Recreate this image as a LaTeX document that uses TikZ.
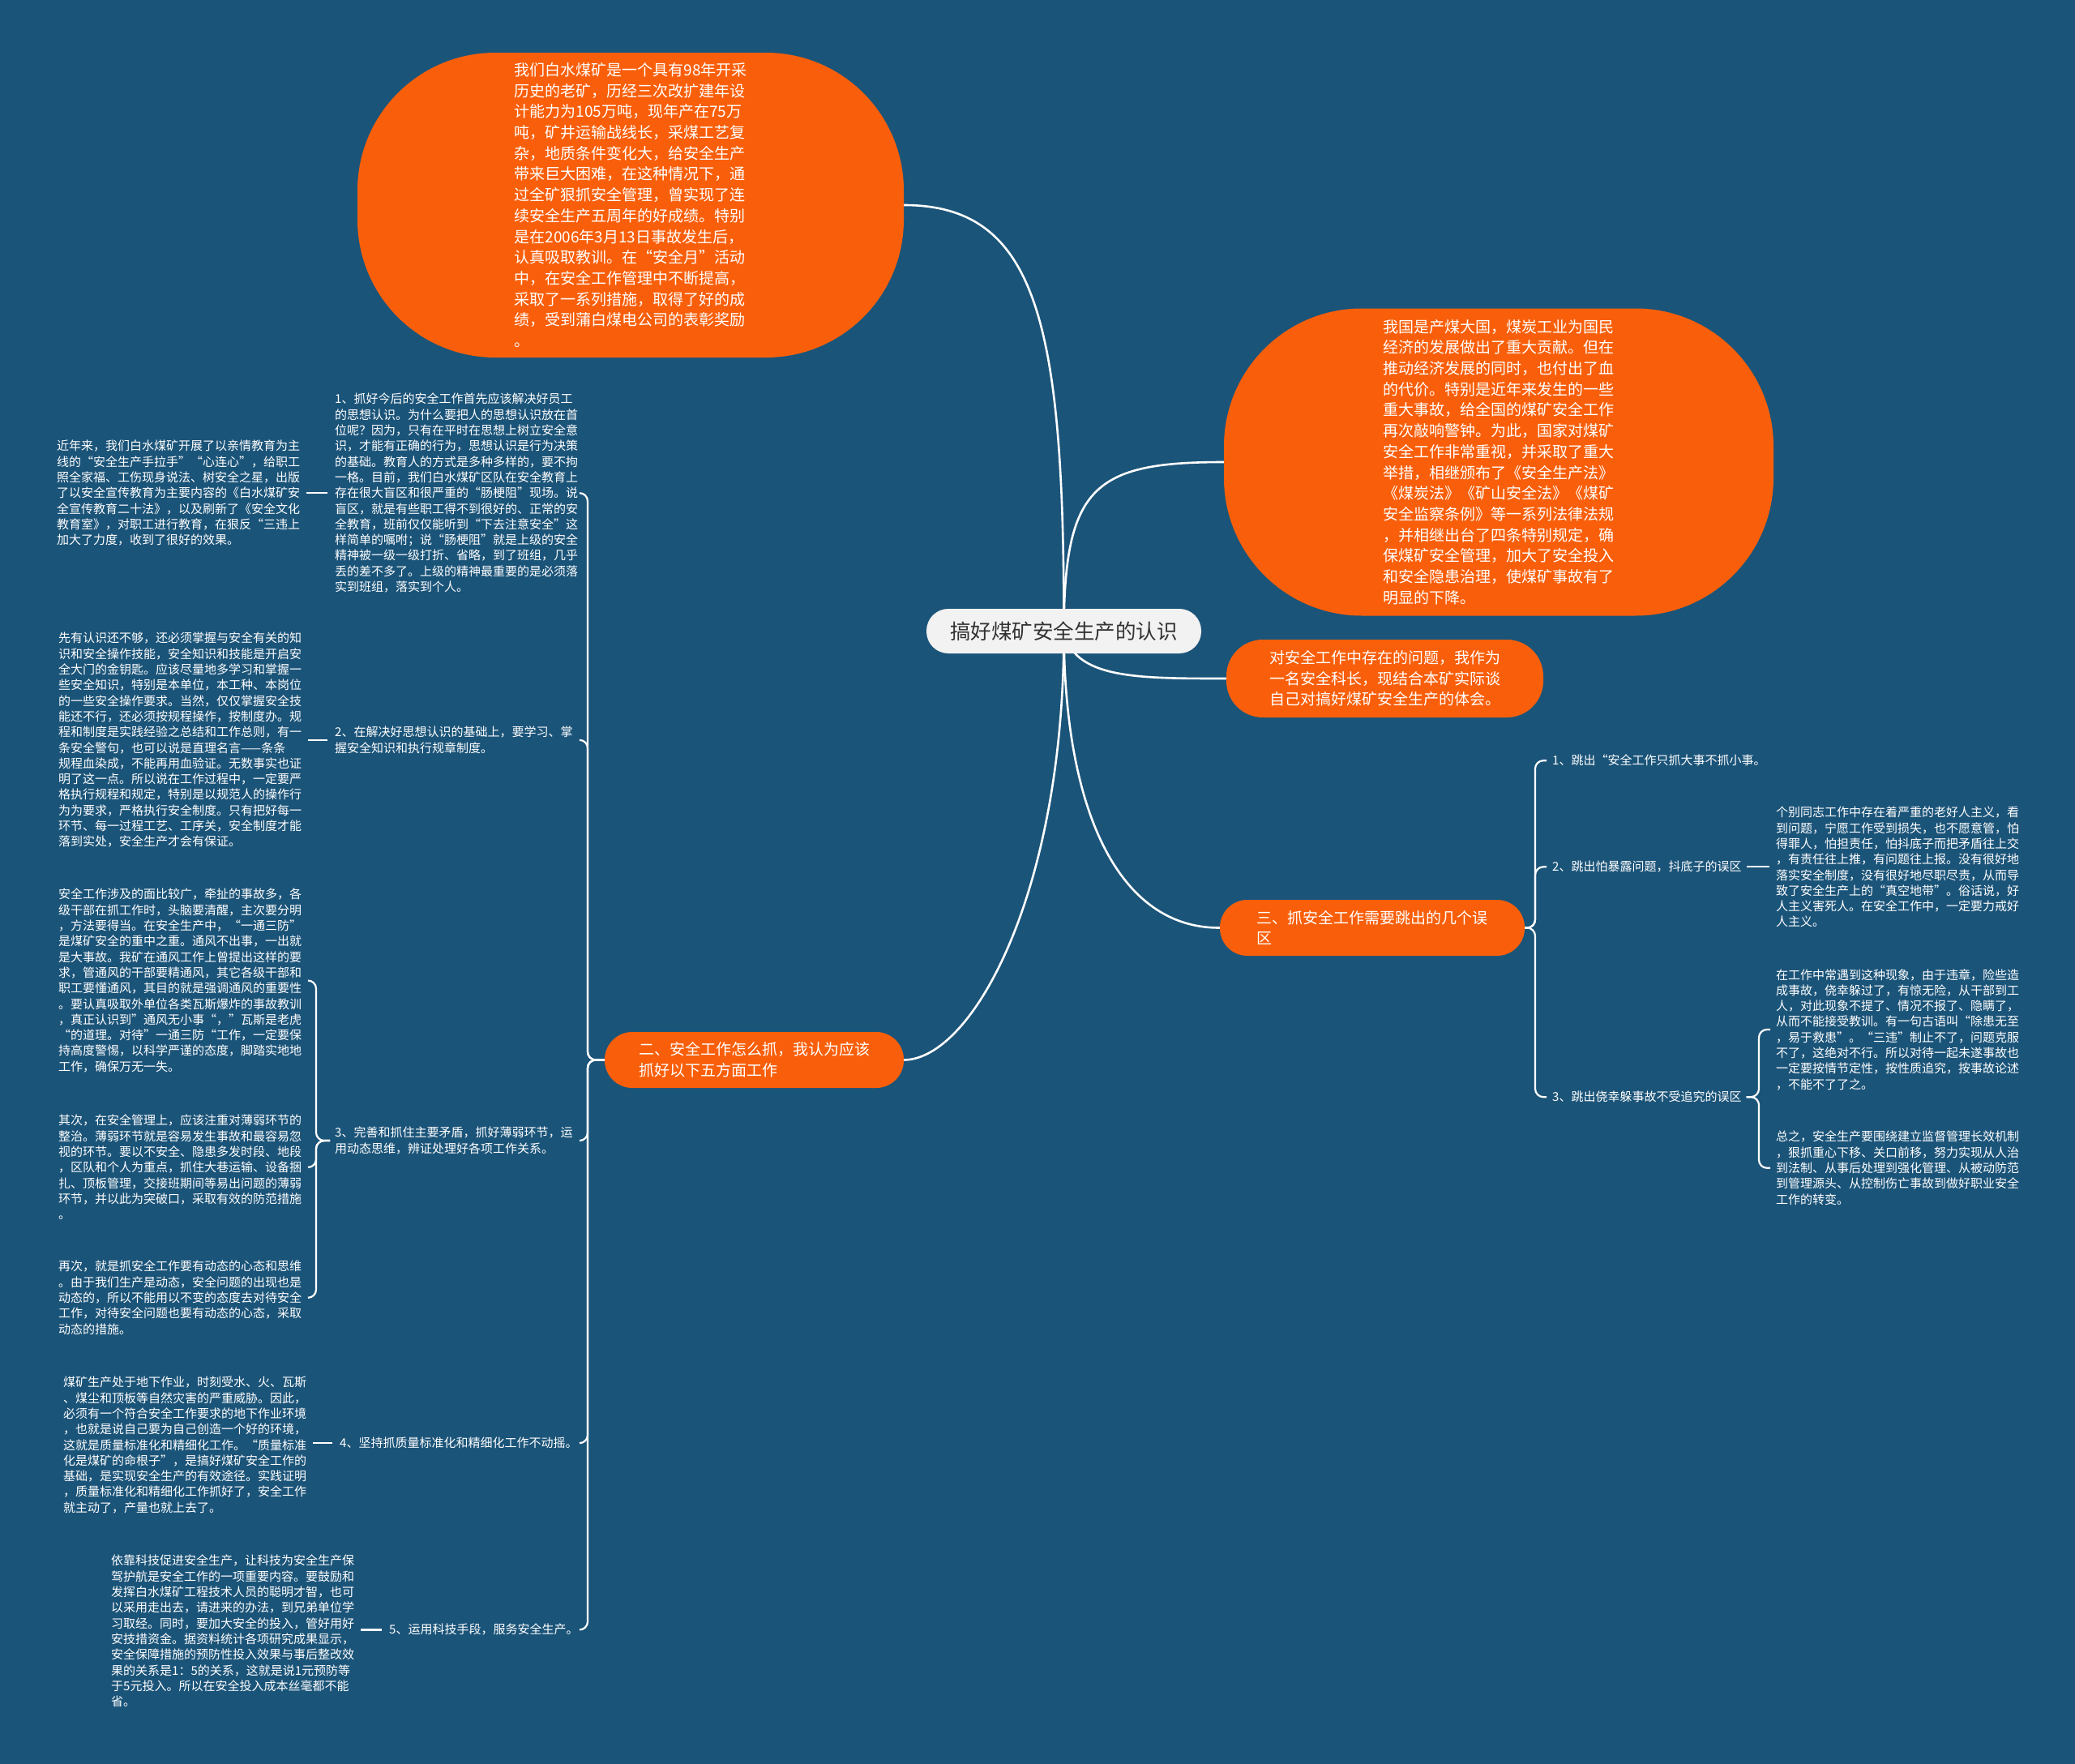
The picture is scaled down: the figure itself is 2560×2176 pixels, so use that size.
\documentclass[tikz,border=0pt]{standalone}
\usepackage{fontspec}
\setmainfont{Noto Sans CJK SC}
\usetikzlibrary{calc}
\definecolor{bgc}{RGB}{27,84,121}
\definecolor{org}{RGB}{249,95,10}
\definecolor{cfill}{RGB}{242,242,242}
\definecolor{ctext}{RGB}{51,51,51}
\pgfdeclarelayer{bg}
\pgfsetlayers{bg,main}
\tikzset{
  txt/.style={anchor=north west, inner sep=0pt, text=white, align=left, font=\fontsize{15}{19.3}\selectfont},
  blob/.style={fill=org, text=white, align=left, inner sep=0pt, font=\fontsize{19}{25.7}\selectfont},
  conn/.style={draw=white, line width=2.6pt},
  sub/.style={draw=white, line width=2.2pt, rounded corners=10pt},
}
\begin{document}
\begin{tikzpicture}[x=1pt,y=-1pt]
\useasboundingbox (0,0) rectangle (2560,2176);
% central topic
\node[fill=cfill, text=ctext, rounded corners=27pt, minimum width=339pt, minimum height=55pt, inner sep=0pt, font=\fontsize{25.5}{30}\selectfont] (C) at (1312.5,778.5) {搞好煤矿安全生产的认识};
% orange main branches
\node[blob, minimum width=674pt, minimum height=376pt, rounded corners=170pt] (A) at (778,253) {我们白水煤矿是一个具有98年开采\\
历史的老矿，历经三次改扩建年设\\
计能力为105万吨，现年产在75万\\
吨，矿井运输战线长，采煤工艺复\\
杂，地质条件变化大，给安全生产\\
带来巨大困难，在这种情况下，通\\
过全矿狠抓安全管理，曾实现了连\\
续安全生产五周年的好成绩。特别\\
是在2006年3月13日事故发生后，\\
认真吸取教训。在“安全月”活动\\
中，在安全工作管理中不断提高，\\
采取了一系列措施，取得了好的成\\
绩，受到蒲白煤电公司的表彰奖励\\
。};
\node[blob, minimum width=678pt, minimum height=379pt, rounded corners=170pt] (B) at (1849,570) {我国是产煤大国，煤炭工业为国民\\
经济的发展做出了重大贡献。但在\\
推动经济发展的同时，也付出了血\\
的代价。特别是近年来发生的一些\\
重大事故，给全国的煤矿安全工作\\
再次敲响警钟。为此，国家对煤矿\\
安全工作非常重视，并采取了重大\\
举措，相继颁布了《安全生产法》\\
《煤炭法》《矿山安全法》《煤矿\\
安全监察条例》等一系列法律法规\\
，并相继出台了四条特别规定，确\\
保煤矿安全管理，加大了安全投入\\
和安全隐患治理，使煤矿事故有了\\
明显的下降。};
\node[blob, minimum width=391pt, minimum height=96pt, rounded corners=45pt] (D) at (1708.5,837) {对安全工作中存在的问题，我作为\\
一名安全科长，现结合本矿实际谈\\
自己对搞好煤矿安全生产的体会。};
\node[blob, minimum width=376pt, minimum height=69pt, rounded corners=34pt] (E) at (1693,1144.5) {三、抓安全工作需要跳出的几个误\\
区};
\node[blob, minimum width=369pt, minimum height=69pt, rounded corners=34pt] (F) at (930.5,1307.5) {二、安全工作怎么抓，我认为应该\\
抓好以下五方面工作};
% left side items
\node[txt] (I1) at (413,485) {1、抓好今后的安全工作首先应该解决好员工\\
的思想认识。为什么要把人的思想认识放在首\\
位呢？因为，只有在平时在思想上树立安全意\\
识，才能有正确的行为，思想认识是行为决策\\
的基础。教育人的方式是多种多样的，要不拘\\
一格。目前，我们白水煤矿区队在安全教育上\\
存在很大盲区和很严重的“肠梗阻”现场。说\\
盲区，就是有些职工得不到很好的、正常的安\\
全教育，班前仅仅能听到“下去注意安全”这\\
样简单的嘱咐；说“肠梗阻”就是上级的安全\\
精神被一级一级打折、省略，到了班组，几乎\\
丢的差不多了。上级的精神最重要的是必须落\\
实到班组，落实到个人。};
\node[txt] (L1) at (70,543) {近年来，我们白水煤矿开展了以亲情教育为主\\
线的“安全生产手拉手”“心连心”，给职工\\
照全家福、工伤现身说法、树安全之星，出版\\
了以安全宣传教育为主要内容的《白水煤矿安\\
全宣传教育二十法》，以及刷新了《安全文化\\
教育室》，对职工进行教育，在狠反“三违上\\
加大了力度，收到了很好的效果。};
\node[txt] (I2) at (413,896) {2、在解决好思想认识的基础上，要学习、掌\\
握安全知识和执行规章制度。};
\node[txt] (L2) at (72,780) {先有认识还不够，还必须掌握与安全有关的知\\
识和安全操作技能，安全知识和技能是开启安\\
全大门的金钥匙。应该尽量地多学习和掌握一\\
些安全知识，特别是本单位，本工种、本岗位\\
的一些安全操作要求。当然，仅仅掌握安全技\\
能还不行，还必须按规程操作，按制度办。规\\
程和制度是实践经验之总结和工作总则，有一\\
条安全警句，也可以说是直理名言——条条\\
规程血染成，不能再用血验证。无数事实也证\\
明了这一点。所以说在工作过程中，一定要严\\
格执行规程和规定，特别是以规范人的操作行\\
为为要求，严格执行安全制度。只有把好每一\\
环节、每一过程工艺、工序关，安全制度才能\\
落到实处，安全生产才会有保证。};
\node[txt] (I3) at (413,1390) {3、完善和抓住主要矛盾，抓好薄弱环节，运\\
用动态思维，辨证处理好各项工作关系。};
\node[txt] (L3) at (72,1096) {安全工作涉及的面比较广，牵扯的事故多，各\\
级干部在抓工作时，头脑要清醒，主次要分明\\
，方法要得当。在安全生产中，“一通三防”\\
是煤矿安全的重中之重。通风不出事，一出就\\
是大事故。我矿在通风工作上曾提出这样的要\\
求，管通风的干部要精通风，其它各级干部和\\
职工要懂通风，其目的就是强调通风的重要性\\
。要认真吸取外单位各类瓦斯爆炸的事故教训\\
，真正认识到”通风无小事“，”瓦斯是老虎\\
“的道理。对待”一通三防“工作，一定要保\\
持高度警惕，以科学严谨的态度，脚踏实地地\\
工作，确保万无一失。};
\node[txt] (L4) at (72,1375) {其次，在安全管理上，应该注重对薄弱环节的\\
整治。薄弱环节就是容易发生事故和最容易忽\\
视的环节。要以不安全、隐患多发时段、地段\\
，区队和个人为重点，抓住大巷运输、设备捆\\
扎、顶板管理，交接班期间等易出问题的薄弱\\
环节，并以此为突破口，采取有效的防范措施\\
。};
\node[txt] (L5) at (72,1555) {再次，就是抓安全工作要有动态的心态和思维\\
。由于我们生产是动态，安全问题的出现也是\\
动态的，所以不能用以不变的态度去对待安全\\
工作，对待安全问题也要有动态的心态，采取\\
动态的措施。};
\node[txt] (I4) at (419,1773) {4、坚持抓质量标准化和精细化工作不动摇。};
\node[txt] (L6) at (78,1698) {煤矿生产处于地下作业，时刻受水、火、瓦斯\\
、煤尘和顶板等自然灾害的严重威胁。因此，\\
必须有一个符合安全工作要求的地下作业环境\\
，也就是说自己要为自己创造一个好的环境，\\
这就是质量标准化和精细化工作。“质量标准\\
化是煤矿的命根子”，是搞好煤矿安全工作的\\
基础，是实现安全生产的有效途径。实践证明\\
，质量标准化和精细化工作抓好了，安全工作\\
就主动了，产量也就上去了。};
\node[txt] (I5) at (480,2003) {5、运用科技手段，服务安全生产。};
\node[txt] (L7) at (137,1918) {依靠科技促进安全生产，让科技为安全生产保\\
驾护航是安全工作的一项重要内容。要鼓励和\\
发挥白水煤矿工程技术人员的聪明才智，也可\\
以采用走出去，请进来的办法，到兄弟单位学\\
习取经。同时，要加大安全的投入，管好用好\\
安技措资金。据资料统计各项研究成果显示，\\
安全保障措施的预防性投入效果与事后整改效\\
果的关系是1：5的关系，这就是说1元预防等\\
于5元投入。所以在安全投入成本丝毫都不能\\
省。};
% right side items
\node[txt] (R1) at (1915,931) {1、跳出“安全工作只抓大事不抓小事。};
\node[txt] (R2) at (1915,1062) {2、跳出怕暴露问题，抖底子的误区};
\node[txt] (R2a) at (2191,995) {个别同志工作中存在着严重的老好人主义，看\\
到问题，宁愿工作受到损失，也不愿意管，怕\\
得罪人，怕担责任，怕抖底子而把矛盾往上交\\
，有责任往上推，有问题往上报。没有很好地\\
落实安全制度，没有很好地尽职尽责，从而导\\
致了安全生产上的“真空地带”。俗话说，好\\
人主义害死人。在安全工作中，一定要力戒好\\
人主义。};
\node[txt] (R3) at (1915,1346) {3、跳出侥幸躲事故不受追究的误区};
\node[txt] (R3a) at (2191,1195) {在工作中常遇到这种现象，由于违章，险些造\\
成事故，侥幸躲过了，有惊无险，从干部到工\\
人，对此现象不提了、情况不报了、隐瞒了，\\
从而不能接受教训。有一句古语叫“除患无至\\
，易于救患”。“三违”制止不了，问题克服\\
不了，这绝对不行。所以对待一起未遂事故也\\
一定要按情节定性，按性质追究，按事故论述\\
，不能不了了之。};
\node[txt] (R3b) at (2191,1395) {总之，安全生产要围绕建立监督管理长效机制\\
，狠抓重心下移、关口前移，努力实现从人治\\
到法制、从事后处理到强化管理、从被动防范\\
到管理源头、从控制伤亡事故到做好职业安全\\
工作的转变。};
% bracket x positions
\coordinate (LB) at (725,0);
\coordinate (LE) at (715,0);
\coordinate (B3) at (390,0);
\coordinate (E3) at (380,0);
\coordinate (RB) at (1894,0);
\coordinate (RE) at (1908,0);
\coordinate (RB3) at (2170,0);
\coordinate (RE3) at (2184,0);
\begin{pgfonlayer}{bg}
\fill[bgc] (0,0) rectangle (2560,2176);
% main connectors
\draw[conn] (C.center) .. controls (1313,400) and (1280,253) .. (A.east);
\draw[conn] (C.center) .. controls (1313,600) and (1350,570) .. (B.west);
\draw[conn] (C.center) .. controls (1325,837) and (1400,837) .. (D.west);
\draw[conn] (C.center) .. controls (1313,1000) and (1380,1145) .. (E.west);
\draw[conn] (C.center) .. controls (1313,1100) and (1200,1307) .. (F.east);
% left branch
\draw[sub] (F.west) -- (LB |- F.west) -- (LB |- I1.east) -- (LE |- I1.east);
\draw[sub] (F.west) -- (LB |- F.west) -- (LB |- I2.east) -- (LE |- I2.east);
\draw[sub] (F.west) -- (LB |- F.west) -- (LB |- I3.east) -- (LE |- I3.east);
\draw[sub] (F.west) -- (LB |- F.west) -- (LB |- I4.east) -- (LE |- I4.east);
\draw[sub] (F.west) -- (LB |- F.west) -- (LB |- I5.east) -- (LE |- I5.east);
\draw[sub] ($(I1.west)+(-9,0)$) -- ($(L1.east |- I1.west)+(8,0)$);
\draw[sub] ($(I2.west)+(-9,0)$) -- ($(L2.east |- I2.west)+(8,0)$);
\draw[sub] ($(I3.west)+(-6,0)$) -- (B3 |- I3.west) -- (B3 |- L3.east) -- (E3 |- L3.east);
\draw[sub] ($(I3.west)+(-6,0)$) -- (B3 |- I3.west) -- (B3 |- L4.east) -- (E3 |- L4.east);
\draw[sub] ($(I3.west)+(-6,0)$) -- (B3 |- I3.west) -- (B3 |- L5.east) -- (E3 |- L5.east);
\draw[sub] ($(I4.west)+(-9,0)$) -- ($(L6.east |- I4.west)+(8,0)$);
\draw[sub] ($(I5.west)+(-9,0)$) -- ($(L7.east |- I5.west)+(8,0)$);
% right branch
\draw[sub] (E.east) -- (RB |- E.east) -- (RB |- R1.west) -- (RE |- R1.west);
\draw[sub] (E.east) -- (RB |- E.east) -- (RB |- R2.west) -- (RE |- R2.west);
\draw[sub] (E.east) -- (RB |- E.east) -- (RB |- R3.west) -- (RE |- R3.west);
\draw[sub] ($(R2.east)+(6,0)$) -- ($(R2a.west |- R2.east)+(-8,0)$);
\draw[sub] ($(R3.east)+(6,0)$) -- (RB3 |- R3.east) -- (RB3 |- R3a.west) -- (RE3 |- R3a.west);
\draw[sub] ($(R3.east)+(6,0)$) -- (RB3 |- R3.east) -- (RB3 |- R3b.west) -- (RE3 |- R3b.west);
\end{pgfonlayer}
\end{tikzpicture}
\end{document}
